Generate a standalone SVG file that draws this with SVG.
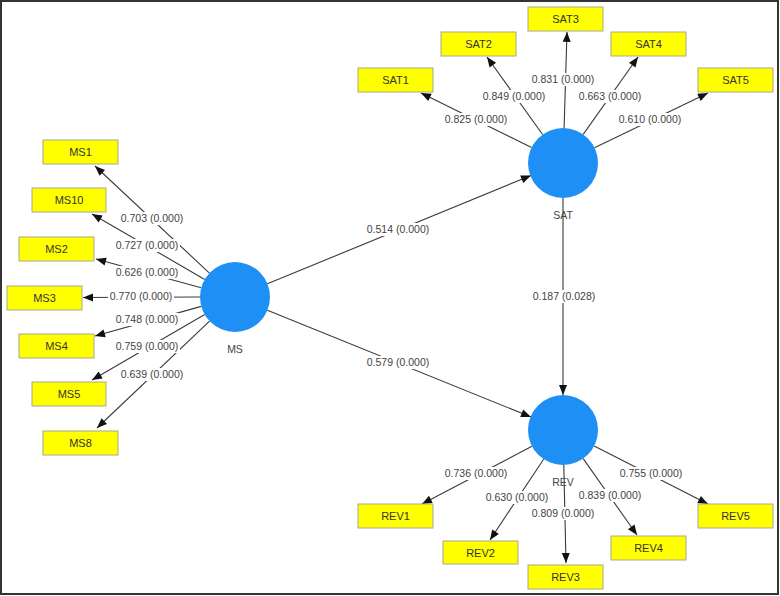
<svg xmlns="http://www.w3.org/2000/svg" width="780" height="596" viewBox="0 0 780 596">
<style>
.box{fill:#ffff00;stroke:#a8a890;stroke-width:1}
.bt{font-family:"Liberation Sans",Arial,sans-serif;font-size:11px;fill:#333;text-anchor:middle}
.lv{fill:#1e8ff5}
.lt{font-family:"Liberation Sans",Arial,sans-serif;font-size:10.5px;fill:#444;text-anchor:middle}
.ln{stroke:#3a3a3a;stroke-width:1.1;fill:none;marker-end:url(#ah)}
.lb{fill:#fff}
.et{font-family:"Liberation Sans",Arial,sans-serif;font-size:10.5px;fill:#444;text-anchor:middle}
</style>
<defs>
<marker id="ah" markerUnits="userSpaceOnUse" markerWidth="12" markerHeight="12" viewBox="0 0 12 12" refX="11" refY="6" orient="auto">
<path d="M1,2 L11,6 L1,10 Z" fill="#111"/>
</marker>
</defs>
<rect x="0" y="0" width="780" height="596" fill="#fff"/>
<rect x="1" y="1" width="777" height="593" fill="none" stroke="#333" stroke-width="2"/>

<g id="connectors">
<line class="ln" x1="209.4" y1="273.1" x2="95" y2="166"/>
<line class="ln" x1="204.7" y1="279.4" x2="92" y2="214"/>
<line class="ln" x1="201.2" y1="287.8" x2="96" y2="259"/>
<line class="ln" x1="200" y1="297" x2="83" y2="297.5"/>
<line class="ln" x1="201.3" y1="306.4" x2="95" y2="336"/>
<line class="ln" x1="204.7" y1="314.6" x2="92" y2="380"/>
<line class="ln" x1="209.6" y1="321.1" x2="97" y2="428"/>

<line class="ln" x1="531.6" y1="147.5" x2="421" y2="93"/>
<line class="ln" x1="542.6" y1="134.5" x2="487" y2="57"/>
<line class="ln" x1="564.1" y1="128" x2="567" y2="32"/>
<line class="ln" x1="583.2" y1="134.4" x2="638" y2="57"/>
<line class="ln" x1="594.5" y1="147.8" x2="708" y2="93"/>

<line class="ln" x1="532" y1="446.3" x2="422" y2="504"/>
<line class="ln" x1="543.6" y1="459.2" x2="490" y2="540"/>
<line class="ln" x1="563.8" y1="465" x2="566" y2="563"/>
<line class="ln" x1="583.2" y1="458.6" x2="637" y2="535"/>
<line class="ln" x1="594.2" y1="445.9" x2="708" y2="504"/>

<line class="ln" x1="267.4" y1="283.8" x2="531" y2="175.5"/>
<line class="ln" x1="267.4" y1="310.2" x2="531" y2="417"/>
<line class="ln" x1="563" y1="198" x2="563" y2="395"/>

<g id="edge-labels">
<rect class="lb" x="119" y="212" width="66" height="13"/><text class="et" x="152" y="222">0.703 (0.000)</text>
<rect class="lb" x="114" y="239" width="66" height="13"/><text class="et" x="147" y="249">0.727 (0.000)</text>
<rect class="lb" x="114" y="266" width="66" height="13"/><text class="et" x="147" y="276">0.626 (0.000)</text>
<rect class="lb" x="108" y="290" width="66" height="13"/><text class="et" x="141" y="300">0.770 (0.000)</text>
<rect class="lb" x="114" y="313" width="66" height="13"/><text class="et" x="147" y="323">0.748 (0.000)</text>
<rect class="lb" x="114" y="340" width="66" height="13"/><text class="et" x="147" y="350">0.759 (0.000)</text>
<rect class="lb" x="119" y="368" width="66" height="13"/><text class="et" x="152" y="378">0.639 (0.000)</text>

<rect class="lb" x="443" y="113" width="66" height="13"/><text class="et" x="476" y="123">0.825 (0.000)</text>
<rect class="lb" x="481" y="90" width="66" height="13"/><text class="et" x="514" y="100">0.849 (0.000)</text>
<rect class="lb" x="530" y="73" width="66" height="13"/><text class="et" x="563" y="83">0.831 (0.000)</text>
<rect class="lb" x="577" y="90" width="66" height="13"/><text class="et" x="610" y="100">0.663 (0.000)</text>
<rect class="lb" x="617" y="113" width="66" height="13"/><text class="et" x="650" y="123">0.610 (0.000)</text>

<rect class="lb" x="443" y="467" width="66" height="13"/><text class="et" x="476" y="477">0.736 (0.000)</text>
<rect class="lb" x="484" y="491" width="66" height="13"/><text class="et" x="517" y="501">0.630 (0.000)</text>
<rect class="lb" x="530" y="507" width="66" height="13"/><text class="et" x="563" y="517">0.809 (0.000)</text>
<rect class="lb" x="577" y="489" width="66" height="13"/><text class="et" x="610" y="499">0.839 (0.000)</text>
<rect class="lb" x="618" y="467" width="66" height="13"/><text class="et" x="651" y="477">0.755 (0.000)</text>

<rect class="lb" x="365" y="223" width="66" height="13"/><text class="et" x="398" y="233">0.514 (0.000)</text>
<rect class="lb" x="365" y="356" width="66" height="13"/><text class="et" x="398" y="366">0.579 (0.000)</text>
<rect class="lb" x="530" y="290" width="68" height="13"/><text class="et" x="564" y="300">0.187 (0.028)</text>
</g>
</g>

<g id="MS"><circle class="lv" cx="235" cy="297" r="35"/><text class="lt" x="235" y="353">MS</text></g>
<g id="SAT"><circle class="lv" cx="563" cy="163" r="35"/><text class="lt" x="563" y="219">SAT</text></g>
<g id="REV"><circle class="lv" cx="563" cy="430" r="35"/><text class="lt" x="563" y="486">REV</text></g>

<g id="MS1"><rect class="box" x="43" y="140" width="75" height="24"/><text class="bt" x="80.5" y="156">MS1</text></g>
<g id="MS10"><rect class="box" x="32" y="188" width="74" height="24"/><text class="bt" x="69" y="204">MS10</text></g>
<g id="MS2"><rect class="box" x="19" y="237" width="75" height="24"/><text class="bt" x="56.5" y="253">MS2</text></g>
<g id="MS3"><rect class="box" x="7" y="286" width="75" height="24"/><text class="bt" x="44.5" y="302">MS3</text></g>
<g id="MS4"><rect class="box" x="19" y="334" width="75" height="24"/><text class="bt" x="56.5" y="350">MS4</text></g>
<g id="MS5"><rect class="box" x="32" y="382" width="74" height="24"/><text class="bt" x="69" y="398">MS5</text></g>
<g id="MS8"><rect class="box" x="43" y="431" width="75" height="24"/><text class="bt" x="80.5" y="447">MS8</text></g>

<g id="SAT1"><rect class="box" x="358" y="68" width="75" height="24"/><text class="bt" x="395.5" y="84">SAT1</text></g>
<g id="SAT2"><rect class="box" x="441" y="32" width="75" height="24"/><text class="bt" x="478.5" y="48">SAT2</text></g>
<g id="SAT3"><rect class="box" x="528" y="7" width="75" height="24"/><text class="bt" x="565.5" y="23">SAT3</text></g>
<g id="SAT4"><rect class="box" x="611" y="32" width="75" height="24"/><text class="bt" x="648.5" y="48">SAT4</text></g>
<g id="SAT5"><rect class="box" x="698" y="68" width="75" height="24"/><text class="bt" x="735.5" y="84">SAT5</text></g>

<g id="REV1"><rect class="box" x="358" y="504" width="75" height="24"/><text class="bt" x="395.5" y="520">REV1</text></g>
<g id="REV2"><rect class="box" x="443" y="541" width="75" height="23"/><text class="bt" x="480.5" y="557">REV2</text></g>
<g id="REV3"><rect class="box" x="528" y="565" width="75" height="24"/><text class="bt" x="565.5" y="581">REV3</text></g>
<g id="REV4"><rect class="box" x="611" y="536" width="75" height="24"/><text class="bt" x="648.5" y="552">REV4</text></g>
<g id="REV5"><rect class="box" x="698" y="504" width="75" height="24"/><text class="bt" x="735.5" y="520">REV5</text></g>
</svg>
